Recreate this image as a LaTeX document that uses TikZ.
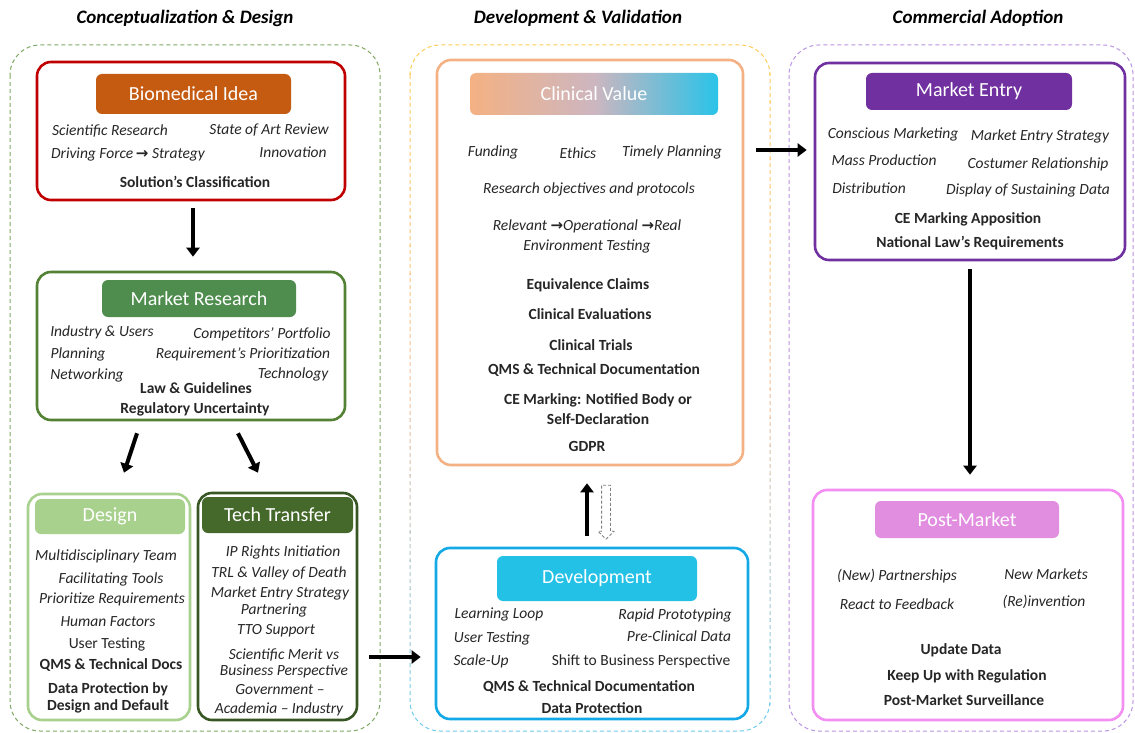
\documentclass[tikz,border=0pt]{standalone}
\usepackage{fontspec}
\setmainfont{Carlito}
\newfontfamily\symfont{DejaVu Sans}
\usetikzlibrary{arrows.meta,shapes.arrows}

\definecolor{txt}{HTML}{262626}
\definecolor{redb}{HTML}{C00000}
\definecolor{bioh}{HTML}{C55A11}
\definecolor{mrb}{HTML}{548235}
\definecolor{mrh}{HTML}{4F8D4E}
\definecolor{desb}{HTML}{A9D18E}
\definecolor{ttb}{HTML}{375623}
\definecolor{tth}{HTML}{44692B}
\definecolor{cvb}{HTML}{F4B183}
\definecolor{cvr}{HTML}{29C3E8}
\definecolor{cvm}{HTML}{CDB6C0}
\definecolor{devb}{HTML}{12A9E6}
\definecolor{devh}{HTML}{23C1E6}
\definecolor{meb}{HTML}{7030A0}
\definecolor{pmb}{HTML}{F38EF3}
\definecolor{pmh}{HTML}{E18DE0}
\definecolor{ogreen}{HTML}{7EA860}
\definecolor{opurple}{HTML}{B994E3}
\definecolor{oyellow}{HTML}{FFCC55}
\definecolor{opeach}{HTML}{F6BE98}
\definecolor{oblue}{HTML}{6ECCEE}

\pgfdeclarehorizontalshading{cvshade}{100bp}{%
  color(0bp)=(cvb); color(25bp)=(cvb); color(50bp)=(cvm); color(75bp)=(cvr); color(100bp)=(cvr)}

\newcommand{\arrowsym}{{\symfont\fontsize{15}{15}\selectfont\bfseries →}}

\begin{document}
\begin{tikzpicture}[x=1pt,y=-1pt,
  title/.style={font=\fontsize{19}{22}\selectfont\bfseries\itshape, text=black, inner sep=0pt},
  outerbox/.style={dashed, dash pattern=on 4pt off 3pt, line width=1pt, rounded corners=30pt},
  stage/.style={draw, rounded corners=14pt, line width=2.6pt, fill=white, inner sep=0pt},
  head/.style={rounded corners=6pt, text=white, inner sep=0pt,
    font=\fontsize{20}{23}\selectfont},
  item/.style={text=txt, inner sep=0pt, text height=10pt, text depth=3pt, yshift=-2pt},
  it/.style={item, font=\fontsize{15.5}{18}\selectfont\itshape},
  up/.style={item, font=\fontsize{15.5}{18}\selectfont},
  bf/.style={item, font=\fontsize{15.5}{18}\selectfont\bfseries},
  flow/.style={line width=4pt, -{Triangle[width=13pt,length=9pt]}, black},
]

\useasboundingbox (0,0) rectangle (1135,733);
\fill[white] (0,0) rectangle (1135,733);

% ---------- column titles ----------
\node[title] (t1) at (185,18) {Conceptualization \& Design};
\node[title] (t2) at (578,18) {Development \& Validation};
\node[title] (t3) at (978,18) {Commercial Adoption};

% ---------- dashed phase frames ----------
\draw[outerbox, ogreen] (10,45) rectangle (380,731);
\draw[outerbox, opurple] (789,45) rectangle (1133,731);
% middle frame: stroke fades from yellow through peach to light blue
\foreach \i in {0,...,23}{
  \pgfmathsetmacro{\t}{\i/23}
  \pgfmathsetmacro{\ya}{45+\i*(688/24)-0.5}
  \pgfmathsetmacro{\yb}{45+(\i+1)*(688/24)+0.5}
  \pgfmathtruncatemacro{\pa}{min(100,200*\t)}
  \pgfmathtruncatemacro{\pb}{max(0,200*\t-100)}
  \ifdim \t pt < 0.5pt
    \colorlet{bandc}{opeach!\pa!oyellow}
  \else
    \colorlet{bandc}{oblue!\pb!opeach}
  \fi
  \begin{scope}
    \clip (400,\ya) rectangle (780,\yb);
    \draw[outerbox, bandc] (410,45) rectangle (770,731);
  \end{scope}
}

% ---------- stage boxes ----------
\node[stage, draw=redb, minimum width=308pt, minimum height=138pt] (bio) at (191,131) {};
\node[stage, draw=mrb, minimum width=308pt, minimum height=148pt] (mr) at (191,346) {};
\node[stage, draw=desb, minimum width=162pt, minimum height=226pt] (des) at (109,607) {};
\node[stage, draw=ttb, minimum width=159pt, minimum height=227pt] (tt) at (277.5,606.5) {};
\node[stage, draw=cvb, minimum width=306pt, minimum height=405pt] (cv) at (590,262.5) {};
\node[stage, draw=devb, minimum width=312pt, minimum height=171pt] (dev) at (592,633.5) {};
\node[stage, draw=meb, minimum width=310pt, minimum height=197pt] (me) at (970,161.5) {};
\node[stage, draw=pmb, minimum width=310pt, minimum height=230pt] (pm) at (968,605) {};

% ---------- stage headers ----------
\node[head, fill=bioh, minimum width=195pt, minimum height=40pt] (bioH) at (193.5,94) {Biomedical Idea};
\node[head, fill=mrh, minimum width=194pt, minimum height=37pt] (mrH) at (199,298.5) {Market Research};
\node[head, fill=desb, minimum width=150pt, minimum height=35pt] (desH) at (110,516.5) {Design};
\node[head, fill=tth, minimum width=151pt, minimum height=36pt] (ttH) at (277.5,515) {Tech Transfer};
\node[head, shading=cvshade, minimum width=248pt, minimum height=42pt] (cvH) at (594,94) {Clinical Value};
\node[head, fill=devh, minimum width=200pt, minimum height=45pt] (devH) at (597,578.5) {Development};
\node[head, fill=meb, minimum width=206pt, minimum height=37pt] (meH) at (969,91.5) {Market Entry};
\node[head, fill=pmh, minimum width=184pt, minimum height=37pt] (pmH) at (967,519.5) {Post-Market};

% ---------- Biomedical Idea ----------
\node[it] (bio1) at (110,130) {Scientific Research};
\node[it] (bio2) at (269,129) {State of Art Review};
\node[it] (bio3) at (128,153) {Driving Force\,\arrowsym\ Strategy};
\node[it] (bio4) at (293,152) {Innovation};
\node[bf] (bio5) at (195,182) {Solution’s Classification};

% ---------- Market Research ----------
\node[it] (mr1) at (102,331) {Industry \& Users};
\node[it] (mr2) at (262,333) {Competitors’ Portfolio};
\node[it] (mr3) at (78,353) {Planning};
\node[it] (mr4) at (243,353) {Requirement’s Prioritization};
\node[it] (mr5) at (87,374) {Networking};
\node[it] (mr6) at (293,373) {Technology};
\node[bf] (mr7) at (196,388) {Law \& Guidelines};
\node[bf] (mr8) at (195,408) {Regulatory Uncertainty};

% ---------- Design ----------
\node[it] (des1) at (106,555) {Multidisciplinary Team};
\node[it] (des2) at (111,578) {Facilitating Tools};
\node[it] (des3) at (112,598) {Prioritize Requirements};
\node[it] (des4) at (108,621) {Human Factors};
\node[up] (des5) at (107,643) {User Testing};
\node[bf] (des6) at (111,664) {QMS \& Technical Docs};
\node[bf] (des7) at (108,688) {Data Protection by};
\node[bf] (des8) at (108,705) {Design and Default};

% ---------- Tech Transfer ----------
\node[it] (tt1) at (283,551) {IP Rights Initiation};
\node[it] (tt2) at (279,572) {TRL \& Valley of Death};
\node[it] (tt3) at (280,592) {Market Entry Strategy};
\node[it] (tt4) at (274,609) {Partnering};
\node[it] (tt5) at (276,629) {TTO Support};
\node[it] (tt6) at (284,654) {Scientific Merit vs};
\node[it] (tt7) at (284,670) {Business Perspective};
\node[it] (tt8) at (280,689) {Government –};
\node[it] (tt9) at (279,708) {Academia – Industry};

% ---------- Clinical Value ----------
\node[it] (cv1) at (493,151) {Funding};
\node[it] (cv2) at (578,153) {Ethics};
\node[it] (cv3) at (672,151) {Timely Planning};
\node[it] (cv4) at (589,188) {Research objectives and protocols};
\node[it] (cv5) at (587,225) {Relevant \arrowsym Operational \arrowsym Real};
\node[it] (cv6) at (587,245) {Environment Testing};
\node[bf] (cv7) at (588,284) {Equivalence Claims};
\node[bf] (cv8) at (590,314) {Clinical Evaluations};
\node[bf] (cv9) at (591,345) {Clinical Trials};
\node[bf] (cv10) at (594,369) {QMS \& Technical Documentation};
\node[bf] (cv11) at (598,399) {CE Marking: Notified Body or};
\node[bf] (cv12) at (598,419) {Self-Declaration};
\node[bf] (cv13) at (587,446) {GDPR};

% ---------- Development ----------
\node[it] (dev1) at (499,613) {Learning Loop};
\node[it] (dev2) at (675,614) {Rapid Prototyping};
\node[it] (dev3) at (492,637) {User Testing};
\node[it] (dev4) at (679,636) {Pre-Clinical Data};
\node[it] (dev5) at (481,660) {Scale-Up};
\node[up] (dev6) at (641,660) {Shift to Business Perspective};
\node[bf] (dev7) at (589,686) {QMS \& Technical Documentation};
\node[bf] (dev8) at (592,708) {Data Protection};

% ---------- Market Entry ----------
\node[it] (me1) at (893,133) {Conscious Marketing};
\node[it] (me2) at (1040,135) {Market Entry Strategy};
\node[it] (me3) at (884,160) {Mass Production};
\node[it] (me4) at (1038,163) {Costumer Relationship};
\node[it] (me5) at (869,188) {Distribution};
\node[it] (me6) at (1028,189) {Display of Sustaining Data};
\node[bf] (me7) at (968,218) {CE Marking Apposition};
\node[bf] (me8) at (970,242) {National Law’s Requirements};

% ---------- Post-Market ----------
\node[it] (pm1) at (897,575) {(New) Partnerships};
\node[it] (pm2) at (1046,574) {New Markets};
\node[it] (pm3) at (897,604) {React to Feedback};
\node[it] (pm4) at (1044,601) {(Re)invention};
\node[bf] (pm5) at (961,649) {Update Data};
\node[bf] (pm6) at (967,675) {Keep Up with Regulation};
\node[bf] (pm7) at (964,700) {Post-Market Surveillance};

% ---------- flow arrows ----------
\draw[flow, shorten <=7pt, shorten >=14pt] ([xshift=2pt]bio.south) -- ([xshift=2pt]bio.south |- mr.north);
\draw[flow] ([xshift=-54pt,yshift=-12pt]mr.south) -- ([xshift=15pt,yshift=20pt]des.north);
\draw[flow] ([xshift=47pt,yshift=-12pt]mr.south) -- ([xshift=-19.5pt,yshift=19pt]tt.north);
\coordinate (ttout) at ([xshift=11pt,yshift=-50.5pt]tt.east);
\draw[flow, shorten >=14pt] (ttout) -- (ttout -| dev.west);
\coordinate (cvout) at ([xshift=12pt,yshift=112.5pt]cv.east);
\draw[flow, shorten >=7pt] (cvout) -- (cvout -| me.west);
\draw[flow, shorten <=8pt, shorten >=14pt] (me.south) -- (me.south |- pm.north);
\draw[flow, shorten <=11pt, shorten >=17pt] ([xshift=-5pt]dev.north) -- ([xshift=-5pt]dev.north |- cv.south);
% dashed hollow return arrow
\node[single arrow, draw=gray, dashed, dash pattern=on 3pt off 2pt, line width=0.8pt,
  shape border rotate=270, minimum height=54pt, minimum width=15pt,
  single arrow head extend=3.5pt, inner sep=4pt] (back) at (606,510) {};

\end{tikzpicture}
\end{document}
